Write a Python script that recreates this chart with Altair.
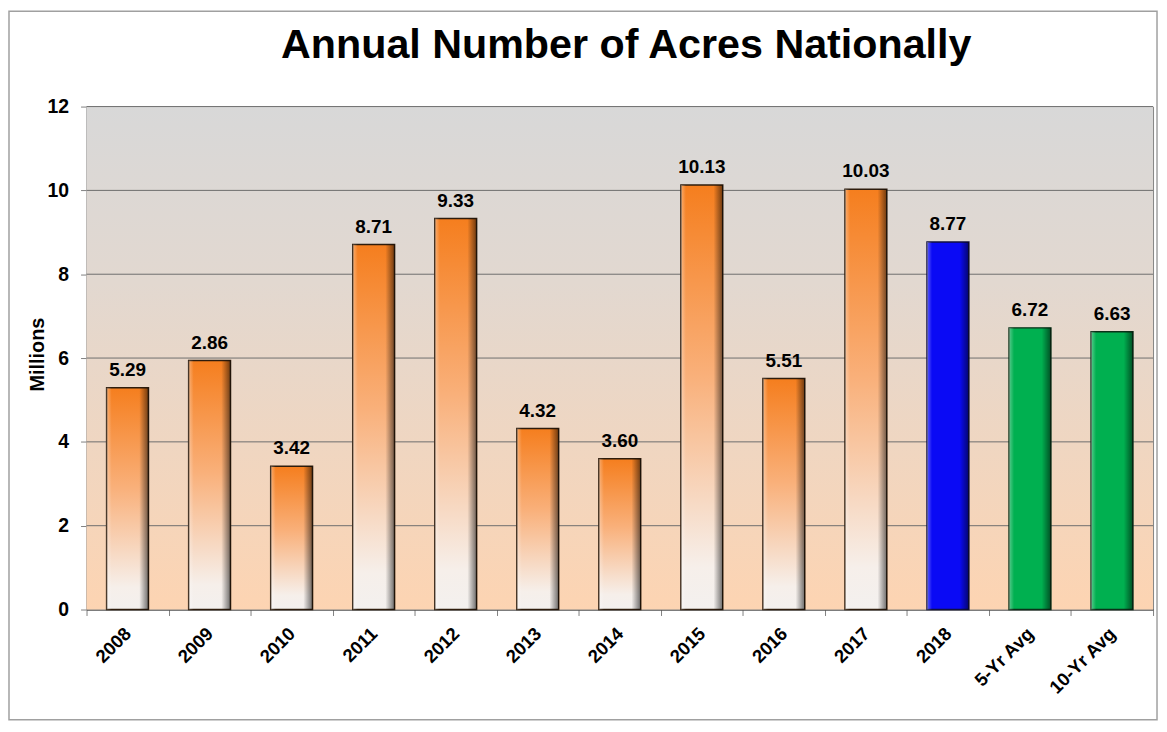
import altair as alt
import pandas as pd

categories = ["2008", "2009", "2010", "2011", "2012", "2013", "2014", "2015",
              "2016", "2017", "2018", "5-Yr Avg", "10-Yr Avg"]
values = [5.29, 5.94, 3.42, 8.71, 9.33, 4.32, 3.60, 10.13, 5.51, 10.03, 8.77, 6.72, 6.63]
labels = ["5.29", "2.86", "3.42", "8.71", "9.33", "4.32", "3.60", "10.13",
          "5.51", "10.03", "8.77", "6.72", "6.63"]
groups = ["year"] * 10 + ["current"] + ["avg", "avg"]
y_ticks = [0, 2, 4, 6, 8, 10, 12]
grid_values = [2, 4, 6, 8, 10, 12]
title_text = "Annual Number of Acres Nationally"

FONT = "Liberation Sans"

df = pd.DataFrame({"cat": categories, "val": values, "lab": labels, "grp": groups})
grid_df = pd.DataFrame({"val": grid_values})
one = pd.DataFrame({"t": [title_text]})

x = alt.X(
    "cat:N", sort=categories,
    scale=alt.Scale(paddingInner=0, paddingOuter=0),
    axis=alt.Axis(title=None, labelAngle=315, labelAlign="right", labelBaseline="middle",
                  labelFont=FONT, labelFontSize=18.5, labelFontWeight="bold", labelColor="black",
                  tickBand="extent", tickSize=6, tickColor="#808080", domainColor="#404040",
                  labelPadding=15),
)
y = alt.Y(
    "val:Q", scale=alt.Scale(domain=[0, 12]),
    axis=alt.Axis(values=y_ticks, grid=False, title="Millions", titleFont=FONT,
                  titleFontSize=20, titleFontWeight="bold", titleColor="black",
                  titleAngle=270, titleX=-49, titleY=249, titleAlign="center",
                  titleBaseline="middle",
                  labelFont=FONT, labelFontSize=19.5, labelFontWeight="bold", labelColor="black",
                  labelPadding=12, tickSize=6, tickColor="#808080", domainColor="#808080"),
)

bg_grad = {"gradient": "linear", "x1": 0, "x2": 0, "y1": 0, "y2": 1,
           "stops": [{"offset": 0, "color": "#d8d8d8"},
                     {"offset": 0.35, "color": "#e2d8d0"},
                     {"offset": 1, "color": "#fdd4b2"}]}
orange_grad = {"gradient": "linear", "x1": 0, "x2": 0, "y1": 0, "y2": 1,
               "stops": [{"offset": 0, "color": "#f57e1e"},
                         {"offset": 0.45, "color": "#f9b07a"},
                         {"offset": 0.9, "color": "#f6efea"},
                         {"offset": 1, "color": "#f3f0ee"}]}
bevel_grad = {"gradient": "linear", "x1": 0, "x2": 1, "y1": 0, "y2": 0,
              "stops": [{"offset": 0, "color": "rgba(255,255,255,0.35)"},
                        {"offset": 0.12, "color": "rgba(255,255,255,0)"},
                        {"offset": 0.78, "color": "rgba(0,0,0,0)"},
                        {"offset": 1, "color": "rgba(0,0,0,0.55)"}]}

BAR_W = {"band": 0.51}

background = alt.Chart(one).mark_rect(fill=bg_grad).encode(
    x=alt.value(0), x2=alt.value("width"), y=alt.value(0), y2=alt.value("height")
)
grid = alt.Chart(grid_df).mark_rule(color="#6e6e6e", strokeWidth=1).encode(y=y)

base = alt.Chart(df)
orange = base.transform_filter("datum.grp == 'year'").mark_bar(
    width=BAR_W, fill=orange_grad, stroke="#2e1c0c", strokeWidth=1.5
).encode(x=x, y=y)
blue = base.transform_filter("datum.grp == 'current'").mark_bar(
    width=BAR_W, fill="#0a0af5", stroke="#101040", strokeWidth=1.5
).encode(x=x, y=y)
green = base.transform_filter("datum.grp == 'avg'").mark_bar(
    width=BAR_W, fill="#00b050", stroke="#0b3018", strokeWidth=1.5
).encode(x=x, y=y)
bevel = base.mark_bar(width=BAR_W, fill=bevel_grad).encode(x=x, y=y)

text = base.mark_text(dy=-12, baseline="alphabetic", font=FONT, fontSize=19,
                      fontWeight="bold", color="black").encode(x=x, y=y, text="lab:N")

title = alt.Chart(one).mark_text(font=FONT, fontSize=41.5, fontWeight="bold", color="black",
                                 align="center", baseline="alphabetic").encode(
    x=alt.value(543), y=alt.value(-49), text="t:N"
)
frame = alt.Chart(one).mark_rect(filled=False, stroke="#a0a0a0", strokeWidth=1.5).encode(
    x=alt.value(-78), x2=alt.value(1077), y=alt.value(-96), y2=alt.value(617)
)

chart = alt.layer(background, grid, orange, blue, green, bevel, text, title, frame).properties(
    width=1073, height=506,
    autosize=alt.AutoSizeParams(type="none"),
    padding={"left": 79, "top": 97, "right": 6, "bottom": 113},
    background="white",
).configure_view(stroke="#808080", strokeWidth=1)

chart.save("out.html", embed_options={"renderer": "svg", "actions": False})
